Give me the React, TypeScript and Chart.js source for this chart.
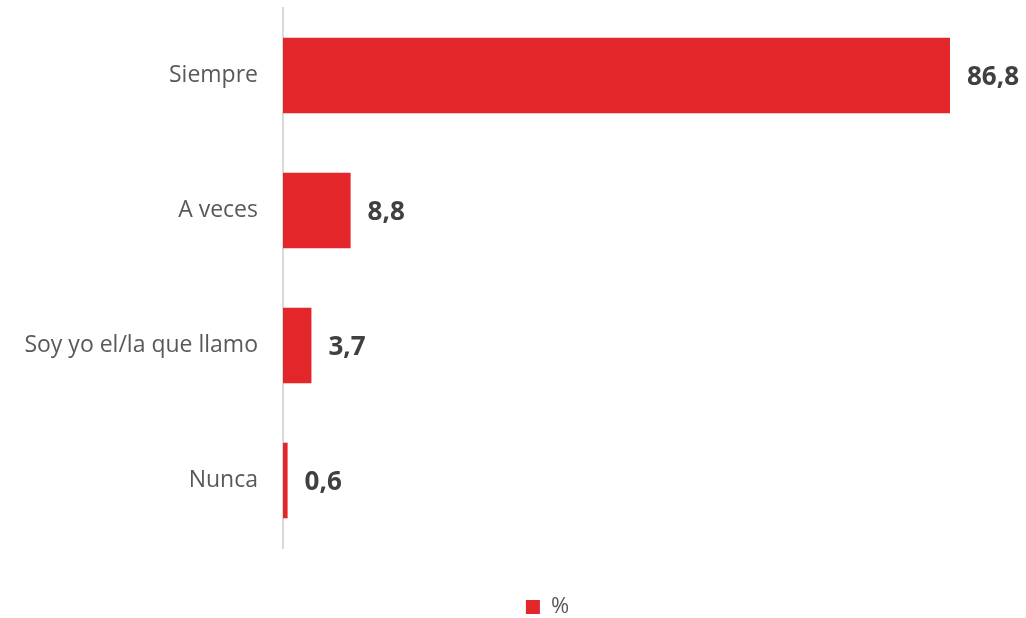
import React, { useEffect, useRef } from "react";
import { Chart, registerables } from "chart.js";

Chart.register(...registerables);

const categories = ["Siempre", "A veces", "Soy yo el/la que llamo", "Nunca"];
const values = [86.8, 8.8, 3.7, 0.6];
const valueLabels = ["86,8", "8,8", "3,7", "0,6"];
const seriesName = "%";

const valueLabelPlugin = {
  id: "valueLabels",
  afterLayout(chart: any) {
    const lg = chart.legend;
    if (lg) {
      lg.left += 41;
      lg.right += 41;
      lg.top += 10;
      lg.bottom += 10;
    }
  },
  afterDatasetsDraw(chart: any) {
    const ctx = chart.ctx;
    const meta = chart.getDatasetMeta(0);
    ctx.save();
    ctx.font = "bold 26px 'Open Sans'";
    ctx.fillStyle = "#404040";
    ctx.textAlign = "left";
    ctx.textBaseline = "middle";
    meta.data.forEach((bar: any, i: number) => {
      ctx.fillText(valueLabels[i], bar.x + 17, bar.y + 2);
    });
    ctx.restore();
  },
};

export default function App() {
  const ref = useRef<HTMLCanvasElement>(null);
  useEffect(() => {
    if (!ref.current) return;
    const chart = new Chart(ref.current, {
      type: "bar",
      data: {
        labels: categories,
        datasets: [
          {
            label: seriesName,
            data: values,
            backgroundColor: "#E3262A",
            borderWidth: 0,
            barPercentage: 0.56,
            categoryPercentage: 1,
          },
        ],
      },
      options: {
        indexAxis: "y",
        responsive: false,
        animation: false,
        layout: { padding: { left: 0, right: 13, top: 8, bottom: 0 } },
        scales: {
          x: {
            min: 0,
            max: 95,
            display: true,
            grid: { display: false, drawTicks: false },
            border: { display: false },
            ticks: { display: false },
            afterFit: (s: any) => {
              s.height = 36;
              s.paddingLeft = 0;
              s.paddingRight = 0;
            },
          },
          y: {
            grid: { display: false, drawTicks: false },
            border: { display: true, color: "#D9D9D9", width: 2 },
            ticks: {
              color: "#595959",
              font: { family: "'Open Sans'", size: 23 },
              padding: 25,
            },
            afterFit: (s: any) => {
              s.width = 283;
              s.paddingTop = 0;
              s.paddingBottom = 0;
            },
          },
        },
        plugins: {
          tooltip: { enabled: false },
          legend: {
            position: "bottom",
            labels: {
              boxWidth: 14,
              boxHeight: 14,
              padding: 2,
              color: "#595959",
              font: { family: "'Open Sans'", size: 22 },
            },
          },
        },
      },
      plugins: [valueLabelPlugin],
    } as any);
    return () => chart.destroy();
  }, []);
  return (
    <div style={{ position: "fixed", left: 0, top: 0, width: 1026, height: 618, background: "#fff" }}>
      <canvas ref={ref} width={1026} height={618} style={{ width: 1026, height: 618 }} />
    </div>
  );
}
